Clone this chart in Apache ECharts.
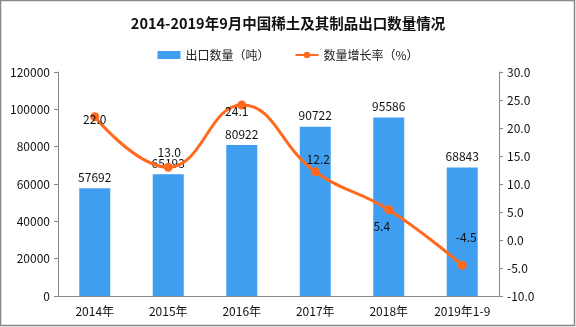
<!DOCTYPE html>
<html><head><meta charset="utf-8">
<script src="https://cdn.jsdelivr.net/npm/echarts@6/dist/echarts.min.js"></script>
<style>html,body{margin:0;padding:0;background:#fff}#c{width:576px;height:327px}</style>
</head><body><div id="c"></div>
<script>
var categories = ['2014年','2015年','2016年','2017年','2018年','2019年1-9'];
var exportQty = [57692, 65193, 80922, 90722, 95586, 68843];
var growthRate = [22.0, 13.0, 24.1, 12.2, 5.4, -4.5];
var leftTicks = [0, 120000, 20000];
var rightTicks = [-10, 30, 5];
var labelOffsets = [[0,3],[1,-15],[-5,6],[3,-12],[-7,17],[4,-28]];

var font = '"Noto Sans CJK SC", sans-serif';
var chart = echarts.init(document.getElementById('c'));
chart.setOption({
  animation: false,
  backgroundColor: '#fff',
  title: {
    text: '2014-2019年9月中国稀土及其制品出口数量情况',
    left: 'center', top: 11,
    textStyle: {fontSize: 14.5, fontWeight: 'bold', color: '#111', fontFamily: font}
  },
  legend: {
    top: 44, left: 'center', itemGap: 25, itemWidth: 23, itemHeight: 8,
    textStyle: {fontSize: 12, color: '#222', fontFamily: font},
    data: [{name: '出口数量（吨）', icon: 'rect'}, {name: '数量增长率（%）'}]
  },
  grid: {left: 58, right: 77, top: 72, bottom: 31},
  graphic: [{type: 'rect', shape: {x: 0.5, y: 0.5, width: 574, height: 325},
    style: {fill: 'none', stroke: '#888', lineWidth: 1.5}, silent: true}],
  xAxis: {
    type: 'category', data: categories,
    axisLine: {lineStyle: {color: '#888'}},
    axisTick: {length: 4, lineStyle: {color: '#888'}},
    axisLabel: {color: '#111', fontSize: 12, margin: 9, fontFamily: font, interval: 0}
  },
  yAxis: [{
    type: 'value', min: leftTicks[0], max: leftTicks[1], interval: leftTicks[2],
    axisLine: {show: true, lineStyle: {color: '#888'}},
    axisTick: {show: true, length: 4, lineStyle: {color: '#888'}},
    splitLine: {show: false},
    axisLabel: {color: '#111', fontSize: 12, margin: 8, fontFamily: font,
      formatter: function(v){return String(v);}}
  }, {
    type: 'value', min: rightTicks[0], max: rightTicks[1], interval: rightTicks[2],
    axisLine: {show: true, lineStyle: {color: '#888'}},
    axisTick: {show: true, length: 4, lineStyle: {color: '#888'}},
    splitLine: {show: false},
    axisLabel: {color: '#111', fontSize: 12, margin: 8, fontFamily: font,
      formatter: function(v){return v.toFixed(1);}}
  }],
  series: [{
    name: '出口数量（吨）', type: 'bar', data: exportQty, barWidth: 31,
    itemStyle: {color: '#409EF1'},
    label: {show: true, position: 'top', distance: 5, color: '#111', fontSize: 12, fontFamily: font}
  }, {
    name: '数量增长率（%）', type: 'line', yAxisIndex: 1, smooth: 0.45,
    data: growthRate.map(function(v, i){
      return {value: v, label: {offset: labelOffsets[i]}};
    }),
    symbol: 'circle', symbolSize: 9,
    lineStyle: {color: '#FF6A1F', width: 3},
    itemStyle: {color: '#FF6A1F'},
    label: {show: true, position: 'inside', color: '#111', fontSize: 12, fontFamily: font,
      formatter: function(p){return p.value.toFixed(1);}}
  }]
});
</script></body></html>
